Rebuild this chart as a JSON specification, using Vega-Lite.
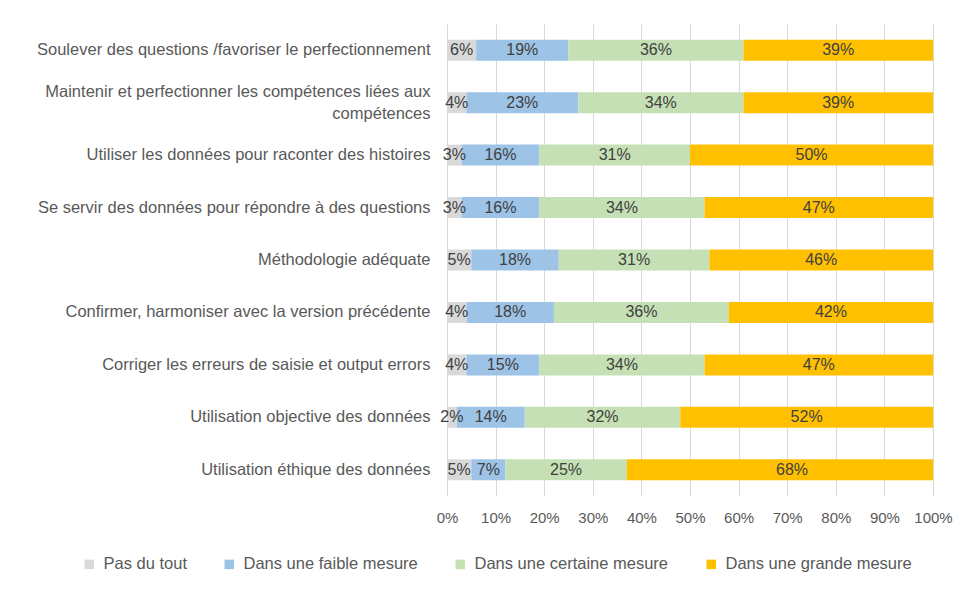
{
  "$schema": "https://vega.github.io/schema/vega-lite/v6.json",
  "width": 486,
  "height": 472,
  "autosize": {"type": "none"},
  "padding": {"left": 447, "top": 24, "right": 45, "bottom": 98},
  "background": "white",
  "config": {
    "view": {"stroke": null},
    "font": "Liberation Sans"
  },
  "data": {
    "values": [
      {"cat": "Soulever des questions /favoriser le perfectionnement", "rep": "Pas du tout", "ord": 1, "v": 6},
      {"cat": "Soulever des questions /favoriser le perfectionnement", "rep": "Dans une faible mesure", "ord": 2, "v": 19},
      {"cat": "Soulever des questions /favoriser le perfectionnement", "rep": "Dans une certaine mesure", "ord": 3, "v": 36},
      {"cat": "Soulever des questions /favoriser le perfectionnement", "rep": "Dans une grande mesure", "ord": 4, "v": 39},
      {"cat": "Maintenir et perfectionner les compétences liées aux compétences", "rep": "Pas du tout", "ord": 1, "v": 4},
      {"cat": "Maintenir et perfectionner les compétences liées aux compétences", "rep": "Dans une faible mesure", "ord": 2, "v": 23},
      {"cat": "Maintenir et perfectionner les compétences liées aux compétences", "rep": "Dans une certaine mesure", "ord": 3, "v": 34},
      {"cat": "Maintenir et perfectionner les compétences liées aux compétences", "rep": "Dans une grande mesure", "ord": 4, "v": 39},
      {"cat": "Utiliser les données pour raconter des histoires", "rep": "Pas du tout", "ord": 1, "v": 3},
      {"cat": "Utiliser les données pour raconter des histoires", "rep": "Dans une faible mesure", "ord": 2, "v": 16},
      {"cat": "Utiliser les données pour raconter des histoires", "rep": "Dans une certaine mesure", "ord": 3, "v": 31},
      {"cat": "Utiliser les données pour raconter des histoires", "rep": "Dans une grande mesure", "ord": 4, "v": 50},
      {"cat": "Se servir des données pour répondre à des questions", "rep": "Pas du tout", "ord": 1, "v": 3},
      {"cat": "Se servir des données pour répondre à des questions", "rep": "Dans une faible mesure", "ord": 2, "v": 16},
      {"cat": "Se servir des données pour répondre à des questions", "rep": "Dans une certaine mesure", "ord": 3, "v": 34},
      {"cat": "Se servir des données pour répondre à des questions", "rep": "Dans une grande mesure", "ord": 4, "v": 47},
      {"cat": "Méthodologie adéquate", "rep": "Pas du tout", "ord": 1, "v": 5},
      {"cat": "Méthodologie adéquate", "rep": "Dans une faible mesure", "ord": 2, "v": 18},
      {"cat": "Méthodologie adéquate", "rep": "Dans une certaine mesure", "ord": 3, "v": 31},
      {"cat": "Méthodologie adéquate", "rep": "Dans une grande mesure", "ord": 4, "v": 46},
      {"cat": "Confirmer, harmoniser avec la version précédente", "rep": "Pas du tout", "ord": 1, "v": 4},
      {"cat": "Confirmer, harmoniser avec la version précédente", "rep": "Dans une faible mesure", "ord": 2, "v": 18},
      {"cat": "Confirmer, harmoniser avec la version précédente", "rep": "Dans une certaine mesure", "ord": 3, "v": 36},
      {"cat": "Confirmer, harmoniser avec la version précédente", "rep": "Dans une grande mesure", "ord": 4, "v": 42},
      {"cat": "Corriger les erreurs de saisie et output errors", "rep": "Pas du tout", "ord": 1, "v": 4},
      {"cat": "Corriger les erreurs de saisie et output errors", "rep": "Dans une faible mesure", "ord": 2, "v": 15},
      {"cat": "Corriger les erreurs de saisie et output errors", "rep": "Dans une certaine mesure", "ord": 3, "v": 34},
      {"cat": "Corriger les erreurs de saisie et output errors", "rep": "Dans une grande mesure", "ord": 4, "v": 47},
      {"cat": "Utilisation objective des données", "rep": "Pas du tout", "ord": 1, "v": 2},
      {"cat": "Utilisation objective des données", "rep": "Dans une faible mesure", "ord": 2, "v": 14},
      {"cat": "Utilisation objective des données", "rep": "Dans une certaine mesure", "ord": 3, "v": 32},
      {"cat": "Utilisation objective des données", "rep": "Dans une grande mesure", "ord": 4, "v": 52},
      {"cat": "Utilisation éthique des données", "rep": "Pas du tout", "ord": 1, "v": 5},
      {"cat": "Utilisation éthique des données", "rep": "Dans une faible mesure", "ord": 2, "v": 7},
      {"cat": "Utilisation éthique des données", "rep": "Dans une certaine mesure", "ord": 3, "v": 25},
      {"cat": "Utilisation éthique des données", "rep": "Dans une grande mesure", "ord": 4, "v": 68}
    ]
  },
  "transform": [
    {"stack": "v", "groupby": ["cat"], "sort": [{"field": "ord", "order": "ascending"}], "as": ["v0", "v1"]},
    {"calculate": "(datum.v0 + datum.v1) / 2", "as": "mid"},
    {"calculate": "datum.v + '%'", "as": "lbl"}
  ],
  "encoding": {
    "y": {
      "field": "cat",
      "type": "nominal",
      "sort": null,
      "scale": {"paddingInner": 0.6, "paddingOuter": 0.3},
      "axis": {
        "title": null,
        "domain": false,
        "ticks": false,
        "labelFontSize": 16.5,
        "labelColor": "#595959",
        "labelPadding": 17,
        "labelLimit": 500,
        "labelLineHeight": 22,
        "labelOffset": {"condition": {"test": "indexof(datum.value, 'Maintenir') == 0", "value": -11}, "value": 0},
        "labelExpr": "datum.value == 'Maintenir et perfectionner les compétences liées aux compétences' ? ['Maintenir et perfectionner les compétences liées aux', 'compétences'] : datum.value"
      }
    }
  },
  "layer": [
    {
      "mark": {"type": "bar", "clip": true},
      "encoding": {
        "x": {
          "field": "v0",
          "type": "quantitative",
          "scale": {"domain": [0, 100], "nice": false},
          "axis": {
            "title": null,
            "values": [0, 10, 20, 30, 40, 50, 60, 70, 80, 90, 100],
            "labelExpr": "datum.value + '%'",
            "labelFontSize": 15,
            "labelColor": "#595959",
            "labelPadding": 14,
            "labelOverlap": false,
            "labelBound": false,
            "labelFlush": false,
            "domain": false,
            "ticks": false,
            "grid": true,
            "gridColor": "#D9D9D9",
            "gridWidth": 1
          }
        },
        "x2": {"field": "v1"},
        "color": {
          "field": "rep",
          "type": "nominal",
          "scale": {
            "domain": ["Pas du tout", "Dans une faible mesure", "Dans une certaine mesure", "Dans une grande mesure"],
            "range": ["#D9D9D9", "#9DC3E6", "#C5E0B4", "#FFC000"]
          },
          "legend": {
            "title": null,
            "orient": "none",
            "direction": "horizontal",
            "legendX": -366,
            "legendY": 532,
            "symbolType": "square",
            "symbolSize": 90,
            "symbolStrokeWidth": 0,
            "labelFontSize": 16.5,
            "labelColor": "#595959",
            "labelOffset": 6,
            "labelLimit": 300,
            "columnPadding": 34
          }
        }
      }
    },
    {
      "mark": {"type": "text", "fontSize": 16, "color": "#404040"},
      "encoding": {
        "x": {"field": "mid", "type": "quantitative"},
        "text": {"field": "lbl", "type": "nominal"},
        "detail": {"field": "rep"}
      }
    }
  ]
}
